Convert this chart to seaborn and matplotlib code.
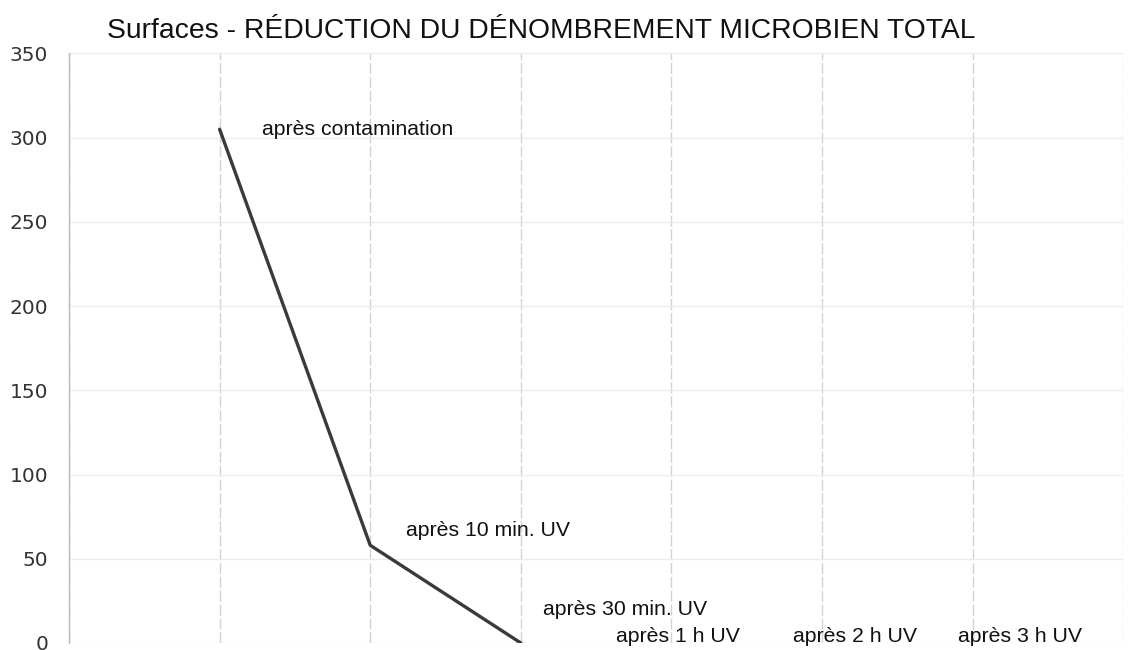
import numpy as np
import pandas as pd
import seaborn as sns
import matplotlib.pyplot as plt

# valeurs
etapes = ["après contamination", "après 10 min. UV", "après 30 min. UV",
          "après 1 h UV", "après 2 h UV", "après 3 h UV"]
positions = [1, 2, 3, 4, 5, 6]
comptage = [305, 58, 0, np.nan, np.nan, np.nan]
y_ticks = [0, 50, 100, 150, 200, 250, 300, 350]

# emplacement des étiquettes (coordonnées des données)
label_xy = [(1.28, 305), (2.24, 67), (3.15, 20), (3.63, 4), (4.81, 4), (5.90, 4)]

df = pd.DataFrame({"pos": positions, "val": comptage})

sns.set_theme(style="white")
plt.rcParams["font.family"] = ["Liberation Sans", "DejaVu Sans"]

fig = plt.figure(figsize=(11.46, 6.5), dpi=100)
ax = fig.add_axes([0.0602, 0.0108, 0.920, 0.907])

sns.lineplot(data=df.dropna(), x="pos", y="val", color="#3a3a3a",
             linewidth=2.4, ax=ax)

ax.set_xlim(0, 7)
ax.set_ylim(0, 350)
ax.set_xticks(range(0, 8))
ax.set_xticklabels([])
ax.set_yticks(y_ticks)
ax.set_yticklabels([str(v) for v in y_ticks], family="DejaVu Sans",
                   fontsize=14.5, color="#333333")
ax.tick_params(axis="both", length=0)
ax.tick_params(axis="y", pad=15)

ax.grid(True, axis="x", color="#d2d2d2", linewidth=1.0, linestyle=(0, (8, 2)))
ax.grid(True, axis="y", color="#ececec", linewidth=0.9)
for s in ["top", "right", "bottom"]:
    ax.spines[s].set_visible(False)
ax.spines["left"].set_color("#b8b8b8")
ax.spines["left"].set_linewidth(1.0)
ax.set_xlabel("")
ax.set_ylabel("")

for txt, (lx, ly) in zip(etapes, label_xy):
    ax.text(lx, ly, txt, ha="left", va="center", fontsize=15.3,
            color="#111111", clip_on=False)

fig.text(107 / 1146, 1 - 31 / 650,
         "Surfaces - RÉDUCTION DU DÉNOMBREMENT MICROBIEN TOTAL",
         ha="left", va="center", fontsize=20.3, color="#111111")

fig.savefig("out.png", dpi=100)
